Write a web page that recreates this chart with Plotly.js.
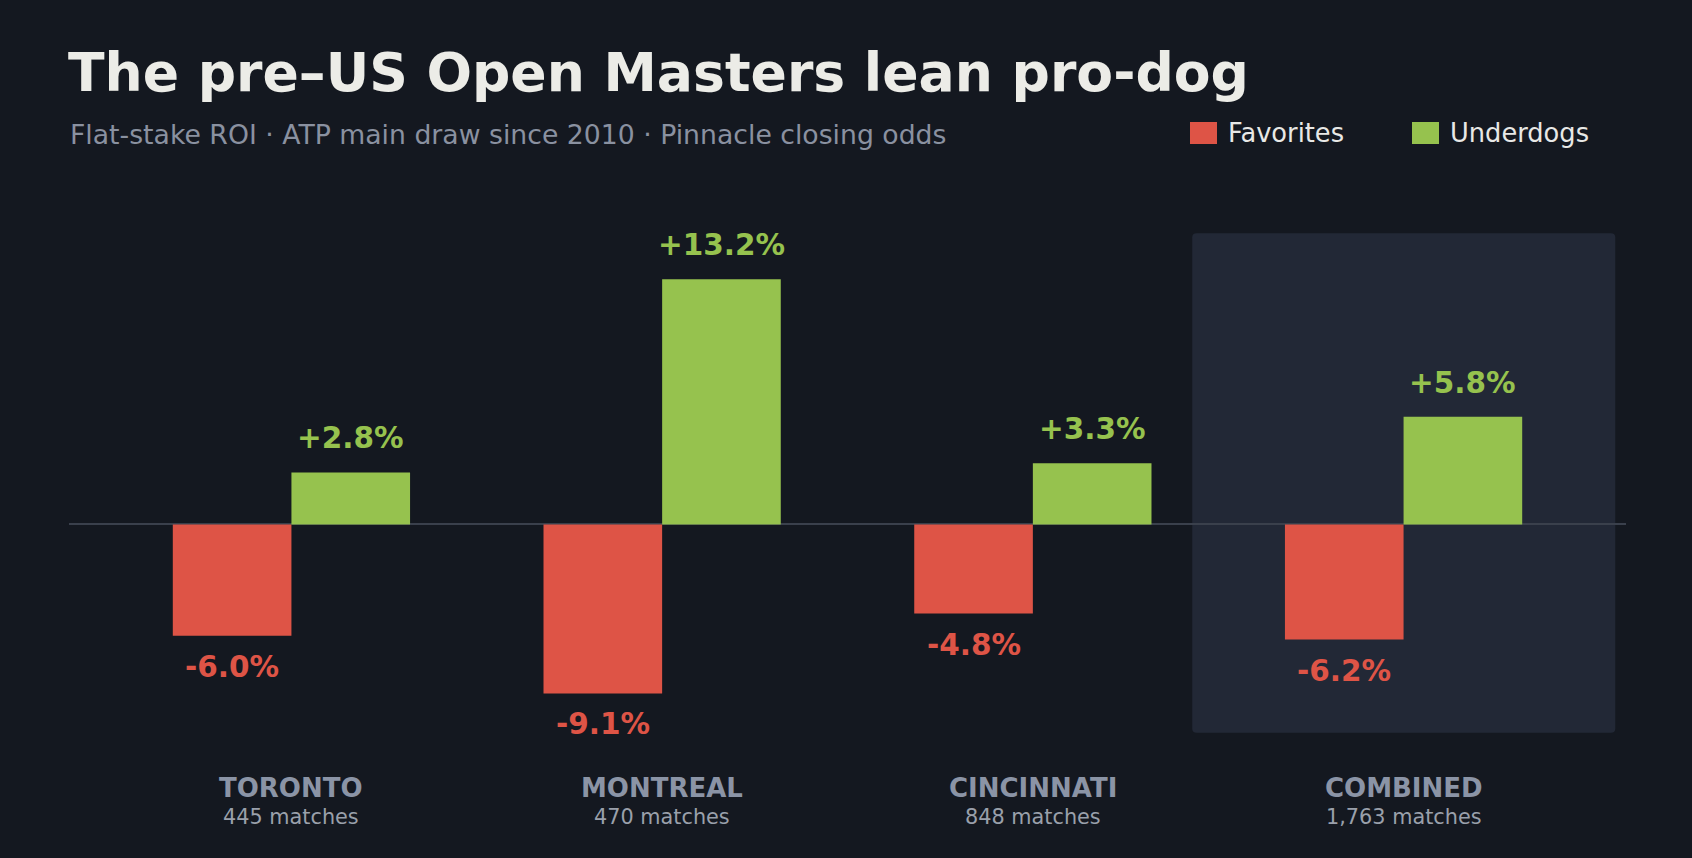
<!DOCTYPE html>
<html>
<head>
<meta charset="utf-8">
<script src="https://cdn.plot.ly/plotly-3.0.1.min.js"></script>
<style>
  html, body { margin: 0; padding: 0; background: #141820; }
  #chart { width: 1692px; height: 858px; }
</style>
</head>
<body>
<div id="chart"></div>
<script>
// ---- data ----
const categories = ["TORONTO", "MONTREAL", "CINCINNATI", "COMBINED"];
const matchCounts = ["445 matches", "470 matches", "848 matches", "1,763 matches"];
const favoritesROI = [-6.0, -9.1, -4.8, -6.2];
const underdogsROI = [2.8, 13.2, 3.3, 5.8];
const seriesNames = ["Favorites", "Underdogs"];

// ---- style ----
const BG = "#141820";
const RED = "#de5446";
const GREEN = "#96c24e";
const FONT = "DejaVu Sans, Verdana, sans-serif";
const BAR_OFFSET = 0.16;

const fmt = v => (v > 0 ? "+" : "") + v.toFixed(1) + "%";

const traces = [
  {
    type: "bar", name: seriesNames[0], x: categories, y: favoritesROI,
    marker: { color: RED, line: { width: 0 } },
    hoverinfo: "skip", showlegend: false
  },
  {
    type: "bar", name: seriesNames[1], x: categories, y: underdogsROI,
    marker: { color: GREEN, line: { width: 0 } },
    hoverinfo: "skip", showlegend: false
  }
];

const annotations = [];
// value labels
favoritesROI.forEach((v, i) => {
  annotations.push({
    xref: "x", yref: "y", x: i - BAR_OFFSET, y: v,
    text: fmt(v), showarrow: false, yanchor: "middle",
    yshift: v >= 0 ? 34 : -31,
    font: { family: FONT, size: 29.5, color: RED, weight: "bold" }
  });
});
underdogsROI.forEach((v, i) => {
  annotations.push({
    xref: "x", yref: "y", x: i + BAR_OFFSET, y: v,
    text: fmt(v), showarrow: false, yanchor: "middle",
    yshift: v >= 0 ? 34 : -31,
    font: { family: FONT, size: 29.5, color: GREEN, weight: "bold" }
  });
});
// category labels
categories.forEach((c, i) => {
  annotations.push({
    xref: "x", yref: "paper", x: i, y: 0, yanchor: "middle", yshift: -50,
    text: c, showarrow: false,
    font: { family: FONT, size: 26, color: "#8b94a6", weight: "bold" }
  });
  annotations.push({
    xref: "x", yref: "paper", x: i, y: 0, yanchor: "middle", yshift: -79,
    text: matchCounts[i], showarrow: false,
    font: { family: FONT, size: 20.8, color: "#9aa0ab" }
  });
});
// subtitle
annotations.push({
  xref: "paper", yref: "paper", x: 0, y: 1, xanchor: "left", yanchor: "middle",
  xshift: -1, yshift: 84,
  text: "Flat-stake ROI · ATP main draw since 2010 · Pinnacle closing odds",
  showarrow: false,
  font: { family: FONT, size: 26.7, color: "#8a91a0" }
});
// legend labels
const legendColors = [RED, GREEN];
const legendSwatchX = [1121, 1343];
const legendTextX = [1157, 1379];
seriesNames.forEach((n, k) => {
  annotations.push({
    xref: "paper", yref: "paper", x: 0, y: 1, xanchor: "left", yanchor: "middle",
    xshift: legendTextX[k], yshift: 85,
    text: n, showarrow: false,
    font: { family: FONT, size: 25.7, color: "#e8e8e6" }
  });
});

const shapes = [];
// highlight box behind COMBINED (rounded corners via path)
(function () {
  const x0 = 2.43, x1 = 3.571, y0 = -11.22, y1 = 15.68;
  const rx = 0.012, ry = 0.22;
  const p = `M ${x0 + rx} ${y1} L ${x1 - rx} ${y1} Q ${x1} ${y1} ${x1} ${y1 - ry} ` +
            `L ${x1} ${y0 + ry} Q ${x1} ${y0} ${x1 - rx} ${y0} ` +
            `L ${x0 + rx} ${y0} Q ${x0} ${y0} ${x0} ${y0 + ry} ` +
            `L ${x0} ${y1 - ry} Q ${x0} ${y1} ${x0 + rx} ${y1} Z`;
  shapes.push({
    type: "path", xref: "x", yref: "y", path: p,
    fillcolor: "#222836", line: { width: 0 }, layer: "below"
  });
})();
// legend swatches
seriesNames.forEach((n, k) => {
  shapes.push({
    type: "rect", xref: "paper", yref: "paper",
    xsizemode: "pixel", ysizemode: "pixel", xanchor: 0, yanchor: 1,
    x0: legendSwatchX[k], x1: legendSwatchX[k] + 27, y0: 74, y1: 96,
    fillcolor: legendColors[k], line: { width: 0 }
  });
});

const layout = {
  width: 1692, height: 858,
  paper_bgcolor: BG, plot_bgcolor: BG,
  margin: { l: 69, r: 66, t: 218, b: 120, pad: 0 },
  barmode: "group", bargap: 0.36, bargroupgap: 0,
  font: { family: FONT, color: "#e8e8e6" },
  title: {
    text: "The pre–US Open Masters lean pro-dog",
    xref: "container", yref: "container",
    x: 68 / 1692, xanchor: "left",
    y: 1 - 72 / 858, yanchor: "middle",
    font: { family: FONT, size: 53.6, color: "#ecece7", weight: "bold" }
  },
  xaxis: {
    type: "category", range: [-0.6, 3.6], showgrid: false, zeroline: false,
    showline: false, showticklabels: false, ticks: "", fixedrange: true
  },
  yaxis: {
    range: [-11.5, 16.5], showgrid: false, showticklabels: false, ticks: "",
    showline: false, zeroline: true, zerolinecolor: "#3a404c", zerolinewidth: 2,
    fixedrange: true
  },
  showlegend: false,
  annotations: annotations,
  shapes: shapes
};

Plotly.newPlot("chart", traces, layout, { displayModeBar: false, staticPlot: true });
</script>
</body>
</html>
